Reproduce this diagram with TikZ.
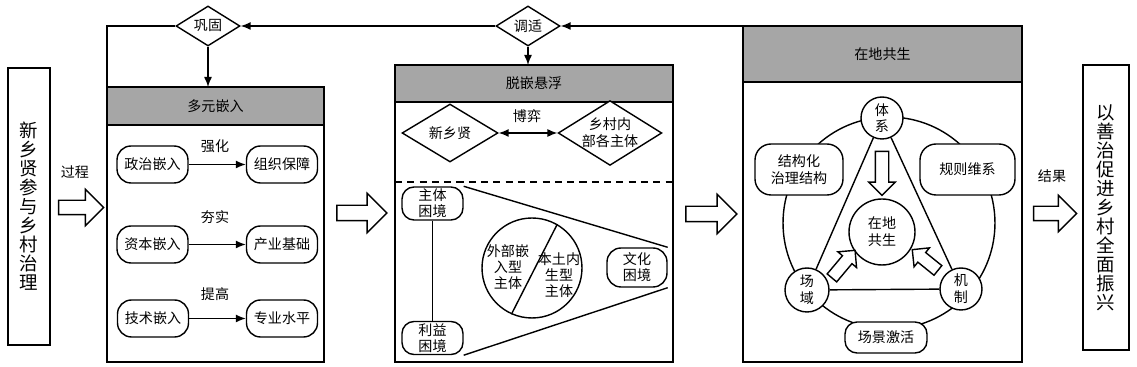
\documentclass[tikz,border=0pt]{standalone}
\usepackage{fontspec}
\newfontfamily\cjk{Noto Sans CJK SC}
\usetikzlibrary{shapes.geometric,shapes.arrows,arrows.meta}

\begin{document}
\begin{tikzpicture}[x=0.02cm, y=-0.02cm, font=\cjk\fontsize{8}{9.5}\selectfont, align=center,
    pill/.style={draw, fill=white, line width=0.8pt, rounded corners=0.28cm, minimum width=1.42cm, minimum height=0.74cm, inner sep=0pt},
    gate/.style={draw, fill=white, diamond, aspect=1.6, inner sep=0pt, line width=0.8pt},
    ring/.style={draw, fill=white, circle, inner sep=0pt, line width=0.8pt},
    hollow/.style={draw, fill=white, single arrow, inner sep=0pt, inner ysep=0.13cm, single arrow head extend=0.22cm, line width=0.8pt},
    link/.style={line width=0.8pt, -{Latex[length=2mm,width=1.6mm]}},
    panel/.style={line width=1pt},
    tall/.style={draw, line width=1pt, font=\cjk\fontsize{10.5}{10.8}\selectfont}]
    \useasboundingbox (0,0) rectangle (1137,367);

    % Start and goal
    \node[tall, minimum width=0.84cm, minimum height=5.54cm] (start) at (29,206.5) {新\\乡\\贤\\参\\与\\乡\\村\\治\\理};
    \node[tall, minimum width=0.92cm, minimum height=5.7cm] (goal) at (1106,207.5) {以\\善\\治\\促\\进\\乡\\村\\全\\面\\振\\兴};

    % Panels
    \coordinate (p1nw) at (107,87);
    \coordinate (p2nw) at (395,65);
    \coordinate (p3nw) at (743,26);
    \draw[panel] (p1nw) rectangle (324,362);
    \draw[panel, fill=gray!70] (p1nw) rectangle (324,125) node[midway] (h1) {多元嵌入};
    \draw[panel] (p2nw) rectangle (673,362);
    \draw[panel, fill=gray!70] (p2nw) rectangle (673,102) node[midway] (h2) {脱嵌悬浮};
    \draw[panel] (p3nw) rectangle (1022,362);
    \draw[panel, fill=gray!70] (p3nw) rectangle (1022,82) node[midway] (h3) {在地共生};

    % Feedback
    \node[gate, minimum width=1.28cm, minimum height=0.8cm] (gonggu) at (208,26) {巩固};
    \node[gate, minimum width=1.28cm, minimum height=0.8cm] (tiaoshi) at (528,26) {调适};
    \draw[line width=0.8pt] (p1nw) |- (gonggu.west);
    \draw[link] (p3nw) -- (tiaoshi.east);
    \draw[link] (tiaoshi.west) -- (gonggu.east);
    \draw[link] (gonggu.south) -- (gonggu.south |- p1nw);
    \draw[link] (tiaoshi.south) -- (tiaoshi.south |- p2nw);

    % Transitions
    \node[hollow, minimum height=0.9cm] (process) at (77.5,207.5) {};
    \node (processlabel) at (75,172) {过程};
    \node[hollow, minimum height=1cm, inner ysep=0.14cm, single arrow head extend=0.24cm] (next1) at (358,213) {};
    \node[hollow, minimum height=1.02cm, inner ysep=0.14cm, single arrow head extend=0.24cm] (next2) at (707.5,214) {};
    \node[hollow, minimum height=0.86cm] (outcome) at (1051.5,213.5) {};
    \node (outcomelabel) at (1052,176) {结果};

    % Panel 1
    \node[pill] (zhengzhi) at (152.5,164.5) {政治嵌入};
    \node[pill] (zuzhi) at (282,164.5) {组织保障};
    \node[pill] (ziben) at (152.5,244.5) {资本嵌入};
    \node[pill] (chanye) at (282,244.5) {产业基础};
    \node[pill] (jishu) at (153,318.5) {技术嵌入};
    \node[pill] (zhuanye) at (282,318.5) {专业水平};
    \draw[link] (zhengzhi) -- (zuzhi);
    \draw[link] (ziben) -- (chanye);
    \draw[link] (jishu) -- (zhuanye);
    \node (qianghua) at (215,146) {强化};
    \node (hangshi) at (215,217) {夯实};
    \node (tigao) at (215,294) {提高};

    % Panel 2
    \node[gate, minimum width=1.92cm, minimum height=1.16cm] (xinxiangxian) at (450,133) {新乡贤};
    \node[gate, minimum width=2cm, minimum height=1.2cm] (cunnei) at (610,133) {乡村内\\部各主体};
    \draw[line width=0.8pt, {Latex[length=2mm,width=1.6mm]}-{Latex[length=2mm,width=1.6mm]}] (xinxiangxian) -- (cunnei);
    \node (boyi) at (527,116) {博弈};
    \draw[panel, dash pattern=on 4pt off 3pt] (395,182) -- (673,182);
    \node[pill, minimum width=1.22cm, minimum height=0.66cm, rounded corners=0.24cm, font=\cjk\fontsize{8}{9}\selectfont] (zhuti) at (432.5,203.5) {主体\\困境};
    \node[pill, minimum width=1.22cm, minimum height=0.66cm, rounded corners=0.24cm, font=\cjk\fontsize{8}{9}\selectfont] (liyi) at (432.5,338) {利益\\困境};
    \node[pill, minimum width=1.2cm, minimum height=0.78cm, font=\cjk\fontsize{8}{9}\selectfont] (wenhua) at (637,267.5) {文化\\困境};
    \draw[line width=0.8pt] (zhuti) -- (liyi);
    \draw[line width=0.8pt] (zhuti.north east) -- (wenhua.north east);
    \draw[line width=0.8pt] (liyi.south east) -- (wenhua.south east);
    \node[ring, minimum size=2cm] (split) at (532,268) {};
    \draw[line width=0.8pt] (split.246) -- (split.60);
    \node[font=\cjk\fontsize{8}{9}\selectfont] (waibu) at (508,267) {外部嵌\\入型\\主体};
    \node[font=\cjk\fontsize{8}{9}\selectfont] (bentu) at (559,275) {本土内\\生型\\主体};

    % Panel 3
    \node[ring, fill=none, minimum size=4.24cm] (wheel) at (889,223) {};
    \node[ring, minimum size=0.84cm] (tixi) at (882,118) {体\\系};
    \node[ring, minimum size=0.88cm] (changyu) at (807,290) {场\\域};
    \node[ring, minimum size=0.84cm] (jizhi) at (961,289) {机\\制};
    \node[ring, minimum size=1.32cm] (core) at (882,232) {在地\\共生};
    \draw[line width=0.8pt] (tixi) -- (changyu);
    \draw[line width=0.8pt] (changyu) -- (jizhi);
    \draw[line width=0.8pt] (jizhi) -- (tixi);
    \node[pill, minimum width=1.76cm, minimum height=1.02cm, rounded corners=0.32cm] (jiegou) at (799,169.5) {结构化\\治理结构};
    \node[pill, minimum width=1.9cm, minimum height=1.02cm, rounded corners=0.32cm] (guize) at (967.5,169.5) {规则维系};
    \node[pill, minimum width=1.64cm, minimum height=0.62cm, rounded corners=0.24cm] (changjing) at (886,337.5) {场景激活};
    \node[hollow, minimum height=0.88cm, inner ysep=0.12cm, single arrow head extend=0.13cm, rotate=-90] (down) at (882,170) {};
    \node[hollow, minimum height=0.72cm, inner ysep=0.11cm, single arrow head extend=0.12cm, rotate=50] (upright) at (841.5,266.5) {};
    \node[hollow, minimum height=0.66cm, inner ysep=0.11cm, single arrow head extend=0.12cm, rotate=141] (upleft) at (927.5,262) {};
\end{tikzpicture}
\end{document}
